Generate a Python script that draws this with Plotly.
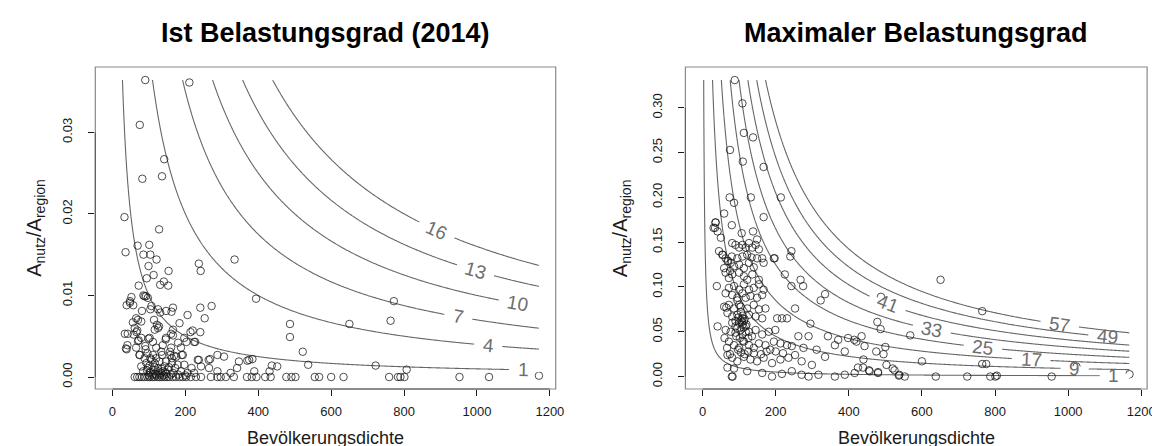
import math
import numpy as np
import plotly.graph_objects as go

# ---------------- data ----------------
# Left panel: "Ist Belastungsgrad (2014)"
ist_upper_x = [90, 211, 75, 142, 82, 136, 33, 128, 36, 69, 101, 85, 104, 121, 335, 237, 242, 99, 154, 113,
               94, 72, 131, 141, 153, 394, 772, 85, 92, 52, 48, 97, 88]
ist_upper_y = [.0364, .0361, .0309, .0267, .0243, .0246, .0196, .0181, .0153, .0161, .0162, .0150, .0150, .0144,
               .0144, .0139, .0130, .0136, .0130, .0125, .0121, .0112, .0113, .0117, .0112, .0096, .0093, .0100,
               .0099, .0098, .0091, .0097, .0099]
ist_mid_x = [39, 57, 48, 107, 166, 147, 125, 241, 272, 70, 114, 79, 206, 253, 61, 125, 116, 166, 220, 241,
             34, 66, 79, 102, 147, 166, 197, 224, 41, 70, 90, 120, 138, 161, 188, 39, 75, 96, 134, 159,
             175, 193, 234, 268, 306, 347, 370, 88, 107, 116, 147, 163, 179, 197, 217, 243, 265, 288, 324, 342,
             79, 97, 111, 125, 138, 152, 166, 188, 206, 224, 93, 102, 111, 120, 129, 143, 132, 84, 102, 117,
             147, 172, 81, 104, 65, 184, 56, 122, 128, 214, 68, 42, 58, 161, 146, 99, 180, 72, 111, 203,
             227, 37, 65, 91, 158, 74, 136, 169, 190, 288, 104, 163, 237, 264, 162, 131]
ist_mid_y = [.0088, .0088, .0093, .0087, .0085, .0081, .0083, .0085, .0087, .0070, .0070, .0068, .0076, .0072,
             .0060, .0060, .0058, .0058, .0057, .0055, .0053, .0055, .0048, .0048, .0048, .0051, .0048, .0043,
             .0039, .0044, .0038, .0036, .0039, .0036, .0036, .0034, .0027, .0029, .0031, .0027, .0025, .0027,
             .0021, .0022, .0025, .0019, .0020, .0023, .0021, .0017, .0019, .0017, .0015, .0015, .0011, .0013,
             .0011, .0007, .0005, .0011, .0013, .0011, .0009, .0011, .0007, .0009, .0005, .0007, .0005, .0005,
             .0017, .0014, .0027, .0023, .0019, .0013, .0005, .0007, .0005, .0004, .0004, .0011, .0081, .0083,
             .0072, .0066, .0067, .0064, .0062, .0055, .0057, .0053, .0052, .0053, .0046, .0047, .0042, .0045,
             .0043, .0043, .0043, .0035, .0036, .0034, .0031, .0027, .0027, .0026, .0027, .0027, .0023, .0023,
             .0021, .0021, .0080, .0079]
ist_right_x = [487, 487, 650, 763, 522, 537, 722, 807, 384, 375, 437, 452, 389, 431, 1170,
               100, 110, 120, 130, 140, 105, 125, 115, 135, 145, 155, 160, 95, 180, 200]
ist_right_y = [.0065, .0049, .0065, .0069, .0031, .0015, .0014, .0009, .0022, .0021, .0014, .0013, .0007, .0007,
               .00016, .0002, .0003, .0002, .0003, .0002, .0006, .0007, .0012, .0010, .0006, .0012, .0003, .0008,
               .0003, .0002]
ist_zero_x = [61, 68, 74, 81, 88, 96, 102, 109, 115, 123, 129, 136, 143, 150, 156, 165, 174, 184, 193, 202,
              215, 229, 243, 270, 288, 297, 311, 333, 369, 382, 395, 419, 434, 477, 491, 502, 555, 567, 600,
              634, 759, 783, 790, 801, 952, 1033]

# Right panel: "Maximaler Belastungsgrad"
max_a_x = [88, 109, 113, 138, 75, 110, 167, 74, 86, 132, 214, 59, 167, 243, 240, 195, 225, 268, 275, 243,
           335, 323, 253, 488, 478, 487, 295, 568, 500, 495, 475, 435, 415, 343, 600, 440, 425, 455, 480, 503,
           520, 537, 553, 651, 765, 525, 538, 638, 724, 787, 801, 805, 955, 765, 776, 1023, 1168]
max_a_y = [.331, .305, .272, .267, .253, .240, .234, .200, .194, .200, .200, .182, .178, .140, .134, .132, .114,
           .108, .101, .101, .092, .085, .076, .089, .061, .053, .059, .046, .033, .025, .028, .045, .041, .045,
           .017, .019, .010, .007, .005, .013, .009, .001, 0, .108, .073, .007, .002, 0, 0, 0, 0, .001, 0, .014,
           .014, .011, .0026]
max_b_x = [36, 41, 34, 80, 107, 138, 149, 81, 90, 100, 109, 118, 127, 136, 145, 154, 45, 54, 63, 68, 80, 95,
           109, 122, 134, 149, 163, 167, 197, 77, 86, 100, 113, 127, 140, 59, 63, 72, 81, 100, 113, 122, 136,
           154, 39, 72, 86, 100, 113, 127, 140, 154, 167, 63, 81, 95, 109, 118, 131, 149, 163, 59, 72, 86, 104,
           122, 140, 154, 172, 68, 81, 95, 109, 127, 145, 163, 90, 100, 104, 109, 113, 90, 81, 118, 95, 104]
max_b_y = [.172, .162, .166, .169, .160, .162, .153, .149, .147, .144, .147, .144, .149, .144, .147, .142, .140,
           .136, .132, .129, .134, .132, .134, .136, .133, .132, .132, .127, .132, .127, .123, .125, .121, .127,
           .122, .121, .116, .110, .114, .116, .112, .108, .114, .108, .101, .099, .101, .097, .103, .097, .099,
           .103, .097, .093, .091, .088, .093, .088, .090, .088, .091, .078, .080, .076, .078, .076, .080, .075,
           .076, .071, .067, .069, .065, .069, .067, .065, .062, .060, .063, .058, .062, .056, .060, .056, .054,
           .052]
max_c_x = [204, 217, 231, 41, 63, 77, 90, 109, 127, 145, 163, 181, 199, 262, 290, 371, 398, 72, 86, 100, 113,
           127, 140, 154, 172, 195, 213, 231, 244, 276, 312, 335, 362, 389, 421, 443, 68, 81, 95, 113, 131,
           149, 167, 190, 213, 235, 253, 271, 299, 68, 86, 122, 163, 190, 217, 244, 271, 290, 317, 362, 389,
           416, 439, 457, 480, 80, 82]
max_c_y = [.065, .065, .065, .056, .052, .050, .049, .047, .050, .052, .047, .050, .052, .045, .045, .041, .043,
           .039, .035, .032, .039, .035, .032, .037, .035, .039, .037, .035, .034, .032, .030, .022, .035, .028,
           .039, .034, .024, .021, .017, .022, .019, .017, .021, .015, .019, .021, .024, .017, .013, .010, .009,
           .006, .004, 0, .003, .006, .002, 0, .002, 0, .002, .004, .010, .006, .004, 0, 0]
max_d_x = [35, 30, 50, 55, 70, 75, 65, 60, 67, 75, 95, 100, 105, 110, 115, 120, 98, 108, 112, 118, 92, 102,
           110, 125, 135, 97, 105, 115, 125, 140, 160, 175, 185, 200, 220]
max_d_y = [.172, .166, .155, .136, .129, .118, .077, .043, .032, .025, .085, .080, .072, .068, .064, .058, .066,
           .061, .055, .050, .045, .043, .040, .043, .045, .030, .027, .025, .028, .026, .025, .028, .030, .028,
           .026]

x_ist = ist_upper_x + ist_mid_x + ist_right_x + ist_zero_x
y_ist = ist_upper_y + ist_mid_y + ist_right_y + [0.0] * len(ist_zero_x)
x_max = max_a_x + max_b_x + max_c_x + max_d_x
y_max = max_a_y + max_b_y + max_c_y + max_d_y

levels_ist = [1, 4, 7, 10, 13, 16]
levels_max = [1, 9, 17, 25, 33, 41, 49, 57]
# x position (Bevölkerungsdichte) where each contour label sits, as in the reference
label_x_ist = [1127, 1031, 949, 1112, 996, 890]
label_x_max = [1125, 1018, 899, 767, 627, 506, 1108, 977]

x_ticks = [0, 200, 400, 600, 800, 1000, 1200]
y_ticks_ist = [0.00, 0.01, 0.02, 0.03]
y_ticks_max = [0.00, 0.05, 0.10, 0.15, 0.20, 0.25, 0.30]

titles = ["Ist Belastungsgrad (2014)", "Maximaler Belastungsgrad"]
x_title = "Bevölkerungsdichte"
y_title = "A<sub>nutz</sub>/A<sub>region</sub>"

# ---------------- figure ----------------
W, H = 1160, 446
FONT = "Liberation Sans, Arial, Helvetica, sans-serif"
INK = "#1a1a1a"
LINE = "#666666"

xdom = [[88 / W, 552 / W], [682.7 / W, 1148 / W]]
ydom = [1 - 381 / H, 1 - 59 / H]
x_range = [-47, 1216]
y_ranges = [[-0.00147, 0.0380], [-0.0139, 0.3456]]
y_title_px = [27, 618]

fig = go.Figure()

panels = [
    (x_ist, y_ist, levels_ist, label_x_ist, y_ticks_ist),
    (x_max, y_max, levels_max, label_x_max, y_ticks_max),
]

for i, (xs, ys, lev, lab_x, yt) in enumerate(panels):
    xa = "x" if i == 0 else "x2"
    ya = "y" if i == 0 else "y2"
    yr = y_ranges[i]
    # surface z = density * share, evaluated on a grid covering the data
    gx = np.linspace(0, max(xs), 320)
    gy = np.linspace(0, max(ys), 320)
    gz = np.outer(gy, gx)
    fig.add_trace(go.Contour(
        x=gx, y=gy, z=gz, xaxis=xa, yaxis=ya,
        contours=dict(start=lev[0], end=lev[-1], size=lev[1] - lev[0], coloring="lines", showlabels=False),
        colorscale=[[0, LINE], [1, LINE]], showscale=False,
        line=dict(width=1.1), hoverinfo="skip",
    ))
    fig.add_trace(go.Scatter(
        x=xs, y=ys, xaxis=xa, yaxis=ya, mode="markers",
        marker=dict(symbol="circle-open", size=7.5, color="rgba(20,20,20,0.75)", line=dict(width=1)),
        hoverinfo="skip", showlegend=False,
    ))

    # contour labels placed on their level lines (R style, with a gap cut in the own line only)
    sx = (xdom[i][1] - xdom[i][0]) * W / (x_range[1] - x_range[0])
    sy = (ydom[1] - ydom[0]) * H / (yr[1] - yr[0])
    x_end = gx[-1]
    for lv, lx in zip(lev, lab_x):
        ly = lv / lx
        ang = math.degrees(math.atan(lv / lx ** 2 * sy / sx))
        half_px = (len(str(lv)) * 10.5 + 18) / 2
        dx = half_px * math.cos(math.radians(ang)) / sx
        right = lx + dx
        if right + 12 / sx > x_end:
            right = x_end + 2
        pts = np.linspace(lx - dx, right, 8)
        path = "M " + " L ".join(f"{p},{lv / p}" for p in pts)
        fig.add_shape(type="path", path=path, xref=xa, yref=ya,
                      line=dict(color="white", width=4.5), layer="above")
        fig.add_annotation(text=str(lv), x=lx, y=ly, xref=xa, yref=ya,
                           showarrow=False, textangle=ang, xanchor="center", yanchor="middle",
                           font=dict(family=FONT, size=19, color="#6e6e6e"))

    axis_common = dict(showgrid=False, zeroline=False, showline=False, ticks="outside", ticklen=6,
                       tickwidth=1, tickcolor=INK, tickfont=dict(family=FONT, size=13, color=INK))
    xkey = "xaxis" if i == 0 else "xaxis2"
    ykey = "yaxis" if i == 0 else "yaxis2"
    fig.update_layout(**{
        xkey: dict(domain=xdom[i], range=x_range, tickvals=x_ticks, anchor=ya,
                   ticklabelstandoff=4, **axis_common),
        ykey: dict(domain=ydom, range=yr, tickvals=yt, tickformat=".2f", anchor=xa,
                   tickangle=-90, ticklabelstandoff=11, **axis_common),
    })
    # plot box
    fig.add_shape(type="rect", xref=f"{xa} domain", yref=f"{ya} domain", x0=0, x1=1, y0=0, y1=1,
                  line=dict(color="#8a8a8a", width=1.2), layer="above")
    # R-style axis lines spanning first to last tick
    fig.add_shape(type="line", xref=xa, yref=f"{ya} domain", x0=x_ticks[0], x1=x_ticks[-1], y0=0, y1=0,
                  line=dict(color="#555555", width=1))
    fig.add_shape(type="line", xref=f"{xa} domain", yref=ya, x0=0, x1=0, y0=yt[0], y1=yt[-1],
                  line=dict(color="#555555", width=1))
    cx = (xdom[i][0] + xdom[i][1]) / 2
    fig.add_annotation(text=f"<b>{titles[i]}</b>", x=cx, y=1 - 25 / H, xref="paper", yref="paper",
                       xanchor="center", yanchor="middle", showarrow=False,
                       font=dict(family=FONT, size=27, color="#000000"))
    fig.add_annotation(text=x_title, x=cx, y=1 - 430 / H, xref="paper", yref="paper",
                       xanchor="center", yanchor="middle", showarrow=False,
                       font=dict(family=FONT, size=18, color=INK))
    fig.add_annotation(text=y_title, x=y_title_px[i] / W, y=(ydom[0] + ydom[1]) / 2, xref="paper",
                       yref="paper", xanchor="center", yanchor="middle", showarrow=False, textangle=-90,
                       font=dict(family=FONT, size=20, color=INK))

fig.update_layout(width=W, height=H, margin=dict(l=0, r=0, t=0, b=0),
                  paper_bgcolor="white", plot_bgcolor="white", showlegend=False)

fig.write_html("out.html")
